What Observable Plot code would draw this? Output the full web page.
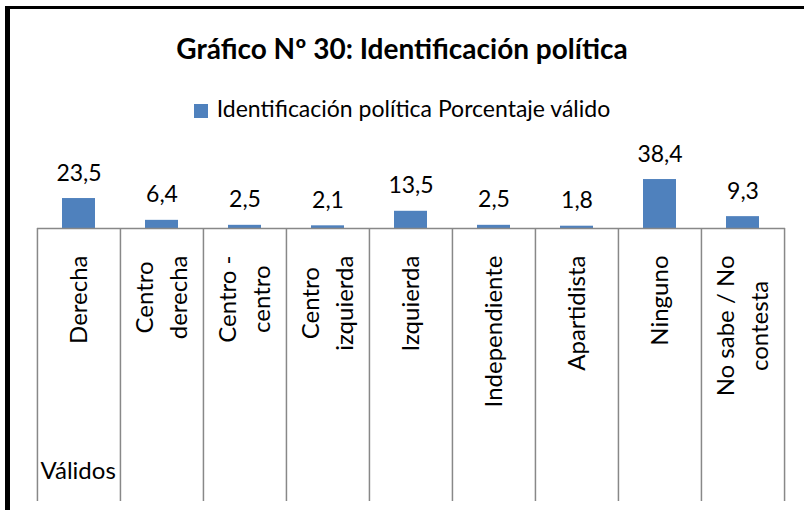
<!DOCTYPE html>
<html>
<head>
<meta charset="utf-8">
<script src="https://cdn.jsdelivr.net/npm/d3@7"></script>
<script src="https://cdn.jsdelivr.net/npm/@observablehq/plot@0.6"></script>
<style>
  html, body { margin: 0; padding: 0; background: #fff; }
  body { width: 804px; height: 510px; position: relative; overflow: hidden; font-family: Lato, sans-serif; }
  #title { padding-top: 13px; height: 70px; line-height: 70px; text-align: center; font-weight: bold; font-size: 28px; color: #000; }
  #legend { padding-top: 5px; height: 40px; line-height: 40px; text-align: center; font-size: 23px; color: #000; }
  #legend .sw { display: inline-block; width: 14px; height: 14px; background: #4F81BD; margin-right: 9px; vertical-align: -1px; }
  #chart svg { display: block; }
  .bt { position: absolute; left: 5px; top: 6px; width: 799px; height: 3px; background: #000; }
  .bl { position: absolute; left: 5px; top: 6px; width: 5px; height: 504px; background: #000; }
</style>
</head>
<body>
<div id="title">Gráfico Nº 30: Identificación política</div>
<div id="legend"><span class="sw"></span>Identificación política Porcentaje válido</div>
<div id="chart"></div>
<div class="bt"></div>
<div class="bl"></div>
<script>
// ---- data ----
const categories = ["Derecha", "Centro derecha", "Centro - centro", "Centro izquierda", "Izquierda", "Independiente", "Apartidista", "Ninguno", "No sabe / No contesta"];
const tickLabels = ["Derecha", "Centro\nderecha", "Centro -\ncentro", "Centro\nizquierda", "Izquierda", "Independiente", "Apartidista", "Ninguno", "No sabe / No\ncontesta"];
const values = [23.5, 6.4, 2.5, 2.1, 13.5, 2.5, 1.8, 38.4, 9.3];
const groupLabel = "Válidos";
const seriesName = "Identificación política Porcentaje válido";

const data = categories.map((c, i) => ({cat: c, value: values[i]}));

// ---- layout ----
const W = 804, H = 382, mL = 37, mR = 19, mT = 49, mB = 282;
const step = (W - mL - mR) / categories.length;
const axisColor = "#888888";
const labelFont = 24;
const labelFamily = "Lato";

// measure label lines so each line is centred within its top-aligned block
const ctx = document.createElement("canvas").getContext("2d");
ctx.font = `${labelFont}px ${labelFamily}`;
const lineSpacing = 34;
const labelMarks = [];
tickLabels.forEach((lab, i) => {
  const lines = lab.split("\n");
  const widths = lines.map(l => ctx.measureText(l).width);
  const maxW = Math.max(...widths);
  lines.forEach((l, j) => {
    labelMarks.push(Plot.text([{cat: categories[i], t: l}], {
      x: "cat", text: "t", frameAnchor: "bottom",
      rotate: -90, textAnchor: "end", lineAnchor: "middle",
      dy: 27 + (maxW - widths[j]) / 2,
      dx: (j - (lines.length - 1) / 2) * lineSpacing,
      fontSize: labelFont, fill: "#000"
    }));
  });
});

const fmt = v => v.toFixed(1).replace(".", ",");

const chart = Plot.plot({
  width: W, height: H,
  marginLeft: mL, marginRight: mR, marginTop: mT, marginBottom: mB,
  x: {domain: categories, paddingInner: 0.6, paddingOuter: 0.3, axis: null},
  y: {domain: [0, 40], axis: null},
  style: {fontFamily: labelFamily, fontSize: "23px", background: "transparent", overflow: "visible", color: "#000"},
  marks: [
    Plot.barY(data, {x: "cat", y: "value", fill: "#4F81BD"}),
    Plot.ruleY([0], {stroke: axisColor, strokeWidth: 1.5}),
    Plot.ruleX(categories, {x: d => d, dx: -step / 2, stroke: axisColor, strokeWidth: 1.5, insetTop: 51, insetBottom: -273}),
    Plot.ruleX([categories[categories.length - 1]], {x: d => d, dx: step / 2, stroke: axisColor, strokeWidth: 1.5, insetTop: 51, insetBottom: -273}),
    Plot.text(data, {x: "cat", y: "value", text: d => fmt(d.value), dy: -18, lineAnchor: "bottom", fontSize: 23, fill: "#000"}),
    ...labelMarks,
    Plot.text([groupLabel], {frameAnchor: "bottom-left", text: d => d, dx: 3, dy: 250, textAnchor: "start", lineAnchor: "bottom", fontSize: 24, fill: "#000"})
  ]
});
document.getElementById("chart").appendChild(chart);
</script>
</body>
</html>
